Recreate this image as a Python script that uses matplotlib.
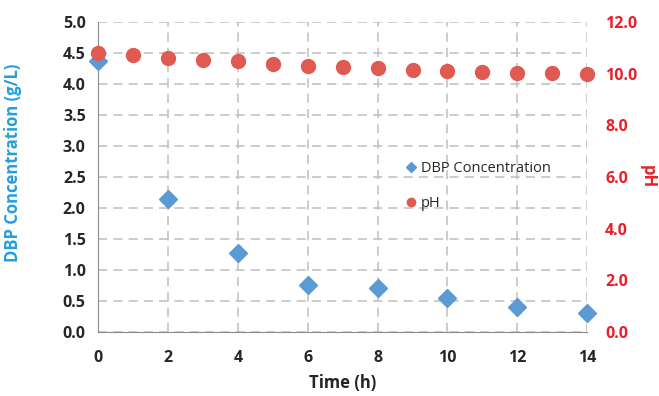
import numpy as np
import matplotlib
matplotlib.use("Agg")
import matplotlib.pyplot as plt

plt.rcParams['font.family'] = ['Open Sans', 'DejaVu Sans']

time_dbp = [0, 2, 4, 6, 8, 10, 12, 14]
dbp = [4.37, 2.15, 1.27, 0.75, 0.71, 0.54, 0.40, 0.30]

time_ph = [0, 1, 2, 3, 4, 5, 6, 7, 8, 9, 10, 11, 12, 13, 14]
ph = [10.81, 10.72, 10.60, 10.53, 10.48, 10.36, 10.31, 10.27,
      10.22, 10.16, 10.12, 10.08, 10.04, 10.02, 9.99]

blue = "#5B9BD5"
red = "#E05A52"
label_blue = "#22A0DC"
label_red = "#E8202A"
grey = "#BFBFBF"
txt = "#262626"

fig = plt.figure(figsize=(6.59, 3.96), dpi=100)
ax = fig.add_axes([0.149, 0.162, 0.742, 0.782])
ax2 = ax.twinx()

h1, = ax.plot(time_dbp, dbp, linestyle="none", marker="D", markersize=9,
              color=blue, clip_on=False, zorder=3, label="DBP Concentration")
h2, = ax2.plot(time_ph, ph, linestyle="none", marker="o", markersize=10,
               color=red, clip_on=False, zorder=3, label="pH")

ax.set_xlim(0, 14)
ax.set_ylim(0, 5)
ax2.set_ylim(0, 12)
ax.set_xticks(np.arange(0, 15, 2))
ax.set_yticks(np.arange(0, 5.01, 0.5))
ax2.set_yticks(np.arange(0, 12.01, 2))
ax.set_yticklabels([f"{v:.1f}" for v in np.arange(0, 5.01, 0.5)])
ax2.set_yticklabels([f"{v:.1f}" for v in np.arange(0, 12.01, 2)])

ax.grid(True, color=grey, linestyle=(0, (6, 4)), linewidth=1.1)
ax.set_axisbelow(True)

for a in (ax, ax2):
    for s in ("top", "right"):
        a.spines[s].set_visible(False)
ax2.spines["left"].set_visible(False)
ax2.spines["bottom"].set_visible(False)
ax.spines["left"].set_color("#8C8C8C")
ax.spines["bottom"].set_color("#8C8C8C")

ax.tick_params(axis="both", length=0, labelsize=11.5, colors=txt)
ax.tick_params(axis="x", pad=13)
ax.tick_params(axis="y", pad=9)
ax2.tick_params(axis="y", length=0, labelsize=11.5, colors=label_red, pad=13)
for lab in ax.get_xticklabels() + ax.get_yticklabels() + ax2.get_yticklabels():
    lab.set_fontweight("bold")

ax.set_xlabel("Time (h)", fontsize=12, fontweight="bold", color=txt)
ax.xaxis.set_label_coords(0.5, -0.135)
ax.set_ylabel("DBP Concentration (g/L)", fontsize=12, fontweight="bold",
              color=label_blue)
ax.yaxis.set_label_coords(-0.155, 0.545)
ax2.set_ylabel("pH", fontsize=12, fontweight="bold", color=label_red,
               rotation=-90, labelpad=14)

leg = ax.legend([h1, h2], ["DBP Concentration", "pH"], loc="upper left",
                bbox_to_anchor=(0.60, 0.595), frameon=False, markerscale=0.6,
                handlelength=0.8, handletextpad=0.3, labelspacing=1.4,
                fontsize=10.5)
for t in leg.get_texts():
    t.set_color(txt)

fig.savefig("out.png", dpi=100)
plt.close(fig)
